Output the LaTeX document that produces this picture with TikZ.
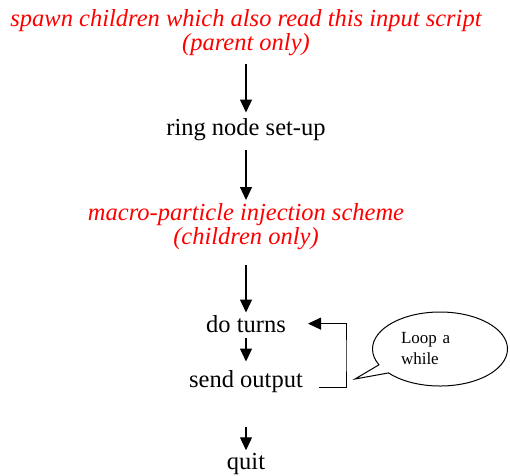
\documentclass[tikz,border=0pt]{standalone}
\usepackage{fontspec}
\setmainfont{Liberation Serif}
\usetikzlibrary{arrows.meta,shapes.callouts,calc}
\definecolor{redtxt}{RGB}{255,0,0}
\begin{document}
\begin{tikzpicture}[x=1pt,y=-1pt,
  lbl/.style={inner sep=0pt, align=center, font=\fontsize{24.5}{24}\selectfont},
  redlbl/.style={inner sep=0pt, align=center, text=redtxt, font=\fontsize{24.5}{24}\selectfont\itshape},
  arr/.style={-{Triangle[length=13pt,width=12pt]}, line width=1.2pt},
  looparr/.style={-{Triangle[length=13pt,width=12pt]}, line width=1pt},
  bubble/.style={ellipse callout, draw, line width=1pt, inner sep=0pt,
    minimum width=135pt, minimum height=74pt, text width=78pt, align=left,
    font=\fontsize{17}{21}\selectfont}
]
\useasboundingbox (0,0) rectangle (510,475);
\node[redlbl, anchor=north] (title) at (246,9.4) {spawn children which also read this input script\\(parent only)};
\node[lbl, anchor=base] (ring) at (246,135) {ring node set-up};
\node[redlbl, anchor=north] (macro) at (246,203.3) {macro-particle injection scheme\\(children only)};
\node[lbl, anchor=base] (doturns) at (246,332) {do turns};
\node[lbl, anchor=base] (send) at (246,387) {send output};
\node[lbl, anchor=base] (quit) at (246,469) {quit};
\coordinate (lc) at (346,356);
\coordinate (tip) at (355,379);
\node[bubble, callout absolute pointer={(tip)}] (loop) at (440,349) {Loop a\\while};

\draw[arr, shorten <=8pt, shorten >=5.3pt] (title.south) -- (ring.north);
\draw[arr, shorten <=10pt, shorten >=3.3pt] (ring.south) -- (macro.north);
\draw[arr, shorten <=15pt, shorten >=2.3pt] (macro.south) -- (doturns.north);
\draw[arr, shorten <=6pt, shorten >=8.3pt] (doturns.south) -- (send.north);
\draw[arr, shorten <=35pt, shorten >=2.3pt] (send.south) -- (quit.north);
\draw[looparr, shorten <=16pt, shorten >=22pt] (send.base east) -| (lc) |- (doturns.east);
\end{tikzpicture}
\end{document}
